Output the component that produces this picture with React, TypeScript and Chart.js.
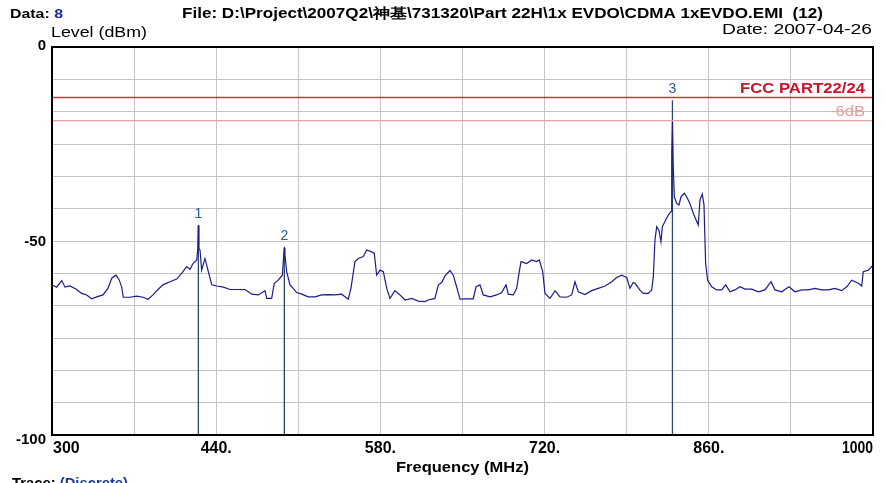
import React, { useEffect, useRef } from "react";
import { Chart, registerables } from "chart.js";
Chart.register(...registerables);

const traceFreq = [
  300, 304.0, 308.3, 311.1, 315.3, 321.1, 325.3, 329.6, 333.8, 338.1, 343.5, 347.7, 350.9, 354.6, 357.1, 359.4, 360.8, 366.5, 372.2, 377.6,
  381.9, 386.1, 390.4, 394.6, 400.6, 406.3, 411.7, 414.8, 417.7, 420.2, 423.4, 424.3, 424.8, 425.3, 426.2, 427.6, 430.4, 433.3, 436.2, 440.4,
  446.1, 451.8, 458.6, 464.6, 470.3, 475.9, 481.6, 483.1, 487.3, 489.5, 492.9, 496.4, 497.6, 498.1, 498.6, 500.1, 502.9, 505.7, 508.6, 512.9,
  518.5, 524.2, 529.9, 535.6, 541.3, 547.0, 552.6, 554.9, 558.3, 561.2, 565.4, 568.3, 572.6, 574.8, 576.8, 579.7, 582.5, 585.4, 588.2, 592.4,
  596.7, 601.0, 606.7, 612.3, 618.0, 620.8, 626.5, 629.4, 632.3, 635.1, 639.3, 642.1, 645.0, 647.9, 653.6, 659.2, 661.5, 664.9, 667.7, 673.4,
  679.2, 683.4, 687.1, 689.0, 693.3, 696.2, 698.4, 699.9, 704.7, 709.0, 713.2, 715.5, 718.4, 720.3, 724.6, 728.9, 733.1, 738.8, 743.1, 745.9,
  748.7, 754.4, 760.1, 765.8, 771.5, 777.2, 781.5, 785.7, 790.0, 792.8, 795.6, 797.1, 801.1, 804.1, 808.4, 811.3, 812.7, 814.1, 815.6, 817.5,
  819.2, 820.4, 822.6, 825.5, 827.8, 828.4, 829.0, 829.6, 830.6, 832.6, 834.6, 836.3, 839.1, 841.1, 843.9, 846.8, 849.7, 851.0, 852.5, 854.4,
  855.9, 857.3, 859.0, 862.5, 866.7, 871.0, 874.4, 878.1, 882.3, 886.6, 890.9, 896.6, 902.2, 907.9, 913.0, 916.4, 922.1, 928.4, 933.5, 939.2,
  944.8, 950.5, 956.2, 961.9, 967.6, 973.3, 977.6, 981.8, 984.6, 987.5, 990.4, 991.7, 996.0, 1000,
];
const traceLevel = [
  -61.3, -61.9, -60.2, -61.9, -61.6, -62.5, -63.5, -63.9, -64.9, -64.4, -63.9, -62.2, -59.6, -58.8, -59.9, -61.8, -64.5, -64.5, -64.2, -64.5,
  -65.0, -63.9, -62.5, -61.3, -60.5, -59.8, -57.9, -56.6, -57.3, -55.8, -54.9, -52.0, -46.0, -52.0, -52.3, -57.5, -54.5, -57.9, -61.3, -61.6,
  -61.9, -62.5, -62.5, -62.5, -63.7, -63.9, -62.8, -64.8, -64.8, -60.9, -60.1, -58.8, -53.5, -51.8, -53.5, -57.9, -61.3, -62.2, -63.3, -63.7,
  -64.4, -64.4, -63.9, -63.8, -63.9, -63.7, -65.0, -62.2, -55.3, -54.5, -54.0, -52.3, -52.8, -53.2, -58.8, -57.5, -57.9, -62.2, -64.8, -62.8,
  -63.9, -65.2, -64.8, -65.5, -65.6, -65.2, -64.8, -61.3, -60.7, -59.0, -57.6, -58.8, -61.8, -65.0, -64.9, -64.9, -61.8, -61.3, -63.9, -64.4,
  -63.9, -63.3, -61.3, -63.7, -63.9, -62.2, -57.9, -55.3, -55.8, -54.9, -55.3, -54.9, -57.9, -63.5, -64.8, -62.8, -64.4, -64.5, -63.9, -60.5,
  -63.1, -63.8, -62.8, -62.2, -61.6, -60.5, -59.4, -58.8, -59.4, -62.2, -60.7, -60.9, -62.6, -63.5, -63.5, -62.6, -59.2, -49.7, -46.3, -47.2,
  -50.2, -46.3, -45.0, -43.3, -42.4, -27.8, -19.2, -30.0, -38.6, -40.3, -40.7, -38.6, -37.7, -38.6, -40.3, -42.9, -45.0, -45.9, -39.4, -37.9,
  -40.7, -55.8, -60.1, -61.8, -62.6, -62.6, -61.3, -63.1, -62.6, -61.8, -62.4, -62.4, -63.1, -62.6, -60.5, -62.6, -63.1, -61.8, -63.1, -62.6,
  -62.6, -62.2, -62.6, -62.6, -62.2, -62.8, -61.8, -60.1, -60.5, -60.9, -61.6, -57.9, -57.5, -56.2,
];

const markerNames = ["1", "2", "3"];
const markerFreq = [424.8, 498.1, 829.0];
const markerLevel = [-45.9, -51.5, -13.7];

const limitNames = ["FCC PART22/24", "-6dB"];
const limitLevel = [-13, -19];

const xTickValues = [300, 440, 580, 720, 860, 1000];
const xTickLabels = ["300", "440.", "580.", "720.", "860.", "1000"];
const yTickValues = [0, -50, -100];
const yTickLabels = ["0", "-50", "-100"];

const FONT = '"Liberation Sans", Arial, sans-serif';

function drawSegs(
  ctx: CanvasRenderingContext2D,
  segs: [string, string][],
  x: number,
  y: number,
  font: string,
  align: "left" | "right" | "center",
  width?: number
) {
  ctx.save();
  ctx.font = font;
  ctx.textBaseline = "middle";
  ctx.textAlign = "left";
  const widths = segs.map((s) => ctx.measureText(s[0]).width);
  const total = widths.reduce((a, b) => a + b, 0);
  const sx = width ? width / total : 1;
  const full = total * sx;
  const left = align === "left" ? x : align === "right" ? x - full : x - full / 2;
  ctx.translate(left, y);
  ctx.scale(sx, 1);
  let cx = 0;
  segs.forEach((s, i) => {
    ctx.fillStyle = s[1];
    ctx.fillText(s[0], cx, 0);
    cx += widths[i];
  });
  ctx.restore();
}

export default function App() {
  const ref = useRef<HTMLCanvasElement | null>(null);

  useEffect(() => {
    if (!ref.current) return;
    const traceData = traceFreq.map((f, i) => ({ x: f, y: traceLevel[i] }));
    const limitColors = ["#d3343c", "#e8a0a0"];
    const limitWidths = [1.5, 1.2];
    const limitSets = limitLevel.map((lv, i) => ({
      label: limitNames[i],
      data: [
        { x: 300, y: lv },
        { x: 1000, y: lv },
      ],
      showLine: true,
      borderColor: limitColors[i],
      borderWidth: limitWidths[i],
      pointRadius: 0,
    }));
    const markerSets = markerFreq.map((f, i) => ({
      label: "M" + markerNames[i],
      data: [
        { x: f, y: markerLevel[i] },
        { x: f, y: -100 },
      ],
      showLine: true,
      borderColor: "#2b4868",
      borderWidth: 1.3,
      pointRadius: 0,
    }));

    const overlay = {
      id: "overlay",
      afterDraw(chart: any) {
        const ctx: CanvasRenderingContext2D = chart.ctx;
        const xs = chart.scales.x;
        const ys = chart.scales.y;
        const a = chart.chartArea;
        ctx.save();
        ctx.strokeStyle = "#000";
        ctx.lineWidth = 2;
        ctx.strokeRect(a.left, a.top, a.right - a.left, a.bottom - a.top);
        ctx.restore();

        const bold15 = `bold 15px ${FONT}`;
        const bold16 = `bold 16px ${FONT}`;
        yTickValues.forEach((v, i) => {
          const py = ys.getPixelForValue(v) + (v === -100 ? 5 : v === 0 ? -1 : 1);
          drawSegs(ctx, [[yTickLabels[i], "#000"]], 46, py, bold15, "right");
        });
        xTickValues.forEach((v, i) => {
          const px = xs.getPixelForValue(v);
          const last = i === xTickValues.length - 1;
          const align = i === 0 ? "left" : last ? "right" : "center";
          drawSegs(ctx, [[xTickLabels[i], "#000"]], i === 0 ? px + 1 : px, a.bottom + 14, bold16, align, last ? 31 : undefined);
        });
        drawSegs(ctx, [["Frequency (MHz)", "#000"]], (a.left + a.right) / 2, 468, `bold 15px ${FONT}`, "center", 133);
        drawSegs(ctx, [["Level (dBm)", "#000"]], 51, 33, `14px ${FONT}`, "left", 96);
        drawSegs(ctx, [["Data: ", "#000"], ["8", "#1c2ca0"]], 10, 14, `bold 13px ${FONT}`, "left", 53);
        drawSegs(
          ctx,
          [["File: D:\\Project\\2007Q2\\神基\\731320\\Part 22H\\1x EVDO\\CDMA 1xEVDO.EMI  (12)", "#000"]],
          182,
          14,
          `bold 14px ${FONT}`,
          "left",
          641
        );
        drawSegs(ctx, [["Date: 2007-04-26", "#000"]], 872, 30, `14px ${FONT}`, "right", 150);
        drawSegs(ctx, [["Trace: ", "#000"], ["(Discrete)", "#1c3c9c"]], 12, 484, `bold 14px ${FONT}`, "left", 116);

        const fy = ys.getPixelForValue(limitLevel[0]);
        drawSegs(ctx, [[limitNames[0], "#c8142a"]], 865, fy - 9, `bold 15px ${FONT}`, "right", 125);
        const sy = ys.getPixelForValue(limitLevel[1]);
        drawSegs(ctx, [[limitNames[1], "#e89a9a"]], 865, sy - 9, `15px ${FONT}`, "right", 35);

        markerFreq.forEach((f, i) => {
          const px = xs.getPixelForValue(f);
          const py = ys.getPixelForValue(markerLevel[i]);
          drawSegs(ctx, [[markerNames[i], "#2d5a8c"]], px, py - 11, `14px ${FONT}`, "center");
        });
      },
    };

    const chart = new Chart(ref.current, {
      type: "scatter",
      data: {
        datasets: [
          ...limitSets,
          {
            label: "Trace",
            data: traceData,
            showLine: true,
            borderColor: "#1c1c8c",
            borderWidth: 1.2,
            pointRadius: 0,
          },
          ...markerSets,
        ] as any,
      },
      options: {
        responsive: false,
        animation: false,
        devicePixelRatio: 1,
        layout: { padding: { left: 52, right: 12, top: 47, bottom: 48 } },
        plugins: { legend: { display: false }, tooltip: { enabled: false } },
        scales: {
          x: {
            type: "linear",
            min: 300,
            max: 1000,
            ticks: { display: false, count: 11 },
            grid: { color: "#c4c4c4", lineWidth: 1, drawTicks: false },
            border: { display: false },
          },
          y: {
            type: "linear",
            min: -100,
            max: 0,
            ticks: { display: false, count: 13 },
            grid: { color: "#c4c4c4", lineWidth: 1, drawTicks: false },
            border: { display: false },
          },
        },
      },
      plugins: [overlay],
    });
    return () => chart.destroy();
  }, []);

  return (
    <div style={{ position: "absolute", left: 0, top: 0, width: 885, height: 483, background: "#fff", overflow: "hidden" }}>
      <canvas ref={ref} width={885} height={483} style={{ display: "block" }} />
    </div>
  );
}
